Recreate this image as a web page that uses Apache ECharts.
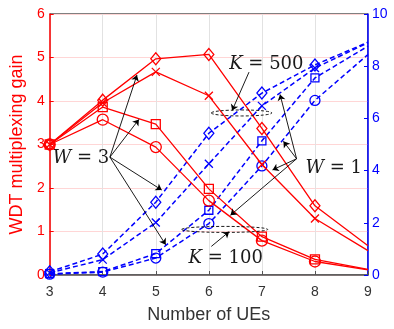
<!DOCTYPE html>
<html><head><meta charset="utf-8">
<script src="https://cdn.jsdelivr.net/npm/echarts@6/dist/echarts.min.js"></script>
<style>html,body{margin:0;padding:0;background:#fff}#c{width:394px;height:329px}</style>
</head><body><div id="c"></div>
<script>
// ---- data ----
const numUEs = [3, 4, 5, 6, 7, 8, 9];
// WDT multiplexing gain (left axis, red solid)
const gainDiamond = [3.0, 4.02, 4.97, 5.07, 3.37, 1.59, 0.67];
const gainCross   = [3.0, 3.96, 4.67, 4.12, 2.54, 1.30, 0.56];
const gainSquare  = [3.0, 3.86, 3.47, 1.98, 0.88, 0.36, 0.13];
const gainCircle  = [3.0, 3.57, 2.94, 1.71, 0.79, 0.31, 0.12];
// right axis (blue dashed)
const rDiamond = [0.12, 0.80, 2.79, 5.43, 6.97, 8.05, 8.92];
const rCross   = [0.08, 0.59, 2.01, 4.26, 6.48, 7.93, 8.90];
const rSquare  = [0.05, 0.13, 0.82, 2.48, 5.14, 7.55, 8.77];
const rCircle  = [0.03, 0.11, 0.65, 1.97, 4.18, 6.69, 8.45];
const leftTicks = [0, 1, 2, 3, 4, 5, 6];
const rightTicks = [0, 2, 4, 6, 8, 10];

// annotations (data coords on left axis)
const w3Origin = [4.135, 2.71];
const w3Tips = [[4.645, 4.596], [4.682, 3.577], [5.112, 1.954], [5.187, 0.695]];
const w3Text = [3.056, 2.672];
const w1Origin = [7.654, 2.672];
const w1Tips = [[7.342, 4.150], [7.406, 3.072], [7.20, 2.416], [6.407, 1.374]];
const w1Text = [7.822, 2.445];
const k500Arrow = [[6.757, 4.664], [6.439, 3.781]];
const k500Text = [6.383, 4.845];
const k500Ellipse = {c: [6.617, 3.725], rx: 0.57};
const k100Arrow = [[6.047, 0.657], [6.383, 0.996]];
const k100Text = [5.617, 0.385];
const k100Ellipse = {c: [6.299, 1.048], rx: 0.81};

const RED = '#ff0000', BLUE = '#0000ff';
const crossPath = 'path://M0,0L10,10M0,10L10,0';

function pts(arr) {
  return numUEs.map((x, i) => {
    const d = {value: [x, arr[i]]};
    if (x === 9) d.symbol = 'none';
    return d;
  });
}
function redSeries(arr, sym, size) {
  return {type: 'line', yAxisIndex: 0, data: pts(arr), symbol: sym, symbolSize: size,
    lineStyle: {color: RED, width: 1.3}, itemStyle: {color: 'rgba(0,0,0,0)', borderColor: RED, borderWidth: 1.3},
    z: 4};
}
function blueSeries(arr, sym, size) {
  return {type: 'line', yAxisIndex: 1, data: pts(arr), symbol: sym, symbolSize: size,
    lineStyle: {color: BLUE, width: 1.5, type: [5, 3]}, itemStyle: {color: 'rgba(0,0,0,0)', borderColor: BLUE, borderWidth: 1.3},
    z: 3};
}
const arrows = [];
w3Tips.forEach(t => arrows.push({coords: [w3Origin, t]}));
w1Tips.forEach(t => arrows.push({coords: [w1Origin, t]}));
arrows.push({coords: k500Arrow});
arrows.push({coords: k100Arrow});

const chart = echarts.init(document.getElementById('c'));
chart.setOption({
  animation: false,
  grid: {left: 47, right: 26, top: 14, bottom: 50, show: true, borderColor: '#000', borderWidth: 1},
  xAxis: {type: 'value', min: 3, max: 9, interval: 1,
    axisLine: {lineStyle: {color: '#555', width: 1.5}},
    axisTick: {inside: true, length: 4, lineStyle: {color: '#555'}},
    axisLabel: {color: '#333', fontSize: 14, margin: 10, fontFamily: 'Liberation Sans'},
    splitLine: {show: true, lineStyle: {color: '#e2e2e2'}},
    name: 'Number of UEs', nameLocation: 'middle', nameGap: 31,
    nameTextStyle: {color: '#333', fontSize: 18, fontFamily: 'Liberation Sans'}},
  yAxis: [
    {type: 'value', min: leftTicks[0], max: leftTicks[leftTicks.length - 1], interval: 1, position: 'left',
      axisLine: {show: true, lineStyle: {color: RED, width: 1.5}},
      axisTick: {show: true, inside: true, length: 4, lineStyle: {color: RED}},
      axisLabel: {color: RED, fontSize: 14, margin: 5, fontFamily: 'Liberation Sans'},
      splitLine: {show: true, lineStyle: {color: '#ffd6d6'}},
      name: 'WDT multiplexing gain', nameLocation: 'middle', nameGap: 20,
      nameTextStyle: {color: RED, fontSize: 18, fontFamily: 'Liberation Sans'}},
    {type: 'value', min: rightTicks[0], max: rightTicks[rightTicks.length - 1], interval: 2, position: 'right',
      axisLine: {show: true, lineStyle: {color: BLUE, width: 1.5}},
      axisTick: {show: true, inside: true, length: 4, lineStyle: {color: BLUE}},
      axisLabel: {color: BLUE, fontSize: 14, margin: 4, fontFamily: 'Liberation Sans'},
      splitLine: {show: false}}
  ],
  series: [
    blueSeries(rDiamond, 'diamond', [10, 12]),
    blueSeries(rCross, crossPath, 8),
    blueSeries(rSquare, 'rect', 8),
    blueSeries(rCircle, 'circle', 10),
    redSeries(gainDiamond, 'diamond', [10, 12]),
    redSeries(gainCross, crossPath, 8),
    redSeries(gainSquare, 'rect', 9),
    redSeries(gainCircle, 'circle', 11),
    {type: 'lines', coordinateSystem: 'cartesian2d', xAxisIndex: 0, yAxisIndex: 0, z: 6,
      symbol: ['none', 'arrow'], symbolSize: [0, 6],
      lineStyle: {color: '#000', width: 0.9, opacity: 1}, data: arrows}
  ]
});

const px = p => chart.convertToPixel({xAxisIndex: 0, yAxisIndex: 0}, p);
function label(pos, letter, rest) {
  const p = px(pos);
  return {type: 'text', x: p[0], y: p[1], z: 10,
    style: {text: '{i|' + letter + '}{n| = ' + rest + '}', align: 'left', verticalAlign: 'middle',
      rich: {i: {fontStyle: 'italic', fontFamily: 'DejaVu Serif', fontSize: 18, fill: '#1a1a1a'},
             n: {fontFamily: 'DejaVu Serif', fontSize: 18, fill: '#1a1a1a'}}}};
}
function ell(e) {
  const c = px(e.c), r = px([e.c[0] + e.rx, e.c[1]]);
  return {type: 'ellipse', z: 9, shape: {cx: c[0], cy: c[1], rx: r[0] - c[0], ry: 3},
    style: {fill: 'none', stroke: '#000', lineWidth: 0.9, lineDash: [3, 2]}};
}
chart.setOption({graphic: [
  label(w3Text, 'W', '3'), label(w1Text, 'W', '1'),
  label(k500Text, 'K', '500'), label(k100Text, 'K', '100'),
  ell(k500Ellipse), ell(k100Ellipse)
]});
</script></body></html>
